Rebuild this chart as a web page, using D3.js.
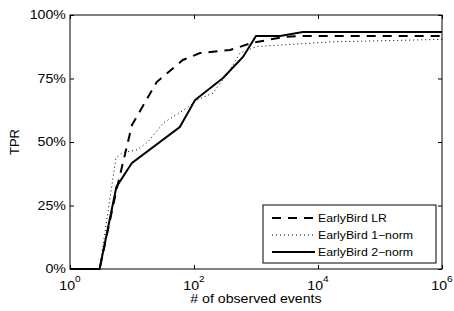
<!DOCTYPE html>
<html>
<head>
<meta charset="utf-8">
<script src="https://cdn.jsdelivr.net/npm/d3@7"></script>
<style>
  body { margin: 0; background: #fff; }
  svg { display: block; }
  text { font-family: "Liberation Sans", Arial, sans-serif; fill: #000; }
  .wide { transform-box: fill-box; transform-origin: center; transform: scaleX(1.18); }
</style>
</head>
<body>
<div id="chart"></div>
<script>
// # of observed events (x) and TPR in % (y)
var eventsLR  = [1, 3, 5.6, 10, 25, 66, 125, 380, 860, 2700, 5100, 1e6];
var tprLR     = [0, 0, 31, 56.7, 73.6, 82.3, 85, 86.2, 89, 91.3, 91.7, 91.7];

var events1n  = [1, 3, 5.5, 6.9, 12, 18, 32, 77, 112, 202, 380, 552, 1040, 15500, 1e6];
var tpr1n     = [0, 0, 43.7, 45.7, 46.9, 50, 57.5, 63.4, 66.5, 69.3, 78.3, 85, 87.6, 89.4, 90.4];

var events2n  = [1, 3, 5.6, 10, 59, 104, 294, 617, 1000, 2450, 5700, 1e6];
var tpr2n     = [0, 0, 32.3, 41.8, 55.9, 66.5, 75.2, 83.5, 91.7, 91.7, 93.3, 93.3];

var seriesNames = ["EarlyBird LR", "EarlyBird 1\u2212norm", "EarlyBird 2\u2212norm"];
var xTicks = [1, 100, 1e4, 1e6];
var yTicks = [0, 25, 50, 75, 100];

var W = 454, H = 311;
var plotL = 70, plotR = 442, plotT = 15, plotB = 269;

var svg = d3.select("#chart").append("svg")
    .attr("width", W)
    .attr("height", H);

var x = d3.scaleLog().domain([1, 1e6]).range([plotL, plotR]);
var y = d3.scaleLinear().domain([0, 100]).range([plotB, plotT]);

// axes, matlab style: ticks pointing inward on all four sides
var tickLen = 4;
svg.append("g")
    .attr("transform", "translate(0," + plotB + ")")
    .call(d3.axisBottom(x).tickValues(xTicks).tickSizeInner(-tickLen).tickSizeOuter(0).tickFormat(""));
svg.append("g")
    .attr("transform", "translate(0," + plotT + ")")
    .call(d3.axisTop(x).tickValues(xTicks).tickSizeInner(-tickLen).tickSizeOuter(0).tickFormat(""));
svg.append("g")
    .attr("transform", "translate(" + plotL + ",0)")
    .call(d3.axisLeft(y).tickValues(yTicks).tickSizeInner(-tickLen).tickSizeOuter(0).tickFormat(""));
svg.append("g")
    .attr("transform", "translate(" + plotR + ",0)")
    .call(d3.axisRight(y).tickValues(yTicks).tickSizeInner(-tickLen).tickSizeOuter(0).tickFormat(""));
svg.selectAll(".domain").remove();
svg.selectAll(".tick line").attr("stroke", "#000");

svg.append("rect")
    .attr("x", plotL).attr("y", plotT)
    .attr("width", plotR - plotL).attr("height", plotB - plotT)
    .attr("fill", "none").attr("stroke", "#000").attr("stroke-width", 1);

// tick labels
svg.selectAll(".ylab").data(yTicks).enter().append("text")
    .attr("class", "ylab")
    .attr("x", plotL - 4)
    .attr("y", function(d) { return y(d) + 4.5; })
    .attr("text-anchor", "end")
    .style("font-size", "12px")
    .style("transform-box", "fill-box")
    .style("transform-origin", "right")
    .style("transform", "scaleX(1.18)")
    .text(function(d) { return d + "%"; });

var xl = svg.selectAll(".xlab").data(xTicks).enter().append("text")
    .attr("class", "xlab wide")
    .attr("x", function(d) { return x(d); })
    .attr("y", 290)
    .attr("text-anchor", "middle")
    .style("font-size", "12px");
xl.append("tspan").text("10");
xl.append("tspan")
    .attr("dy", -8)
    .style("font-size", "8.5px")
    .text(function(d) { return Math.round(Math.log10(d)); });

svg.append("text")
    .attr("class", "wide")
    .attr("x", (plotL + plotR) / 2)
    .attr("y", 303)
    .attr("text-anchor", "middle")
    .style("font-size", "12px")
    .text("# of observed events");

svg.append("text")
    .attr("transform", "translate(19," + ((plotT + plotB) / 2) + ") rotate(-90)")
    .attr("text-anchor", "middle")
    .style("font-size", "13px")
    .text("TPR");

// lines
var line = d3.line()
    .x(function(d) { return x(d[0]); })
    .y(function(d) { return y(d[1]); });

var styles = [
  {width: 2, dash: "9,7"},
  {width: 1, dash: "1,3"},
  {width: 2, dash: null}
];
var seriesData = [
  d3.zip(eventsLR, tprLR),
  d3.zip(events1n, tpr1n),
  d3.zip(events2n, tpr2n)
];

seriesData.forEach(function(data, i) {
  svg.append("path")
      .datum(data)
      .attr("d", line)
      .attr("fill", "none")
      .attr("stroke", "#000")
      .attr("stroke-width", styles[i].width)
      .attr("stroke-dasharray", styles[i].dash);
});

// legend
var lg = svg.append("g");
lg.append("rect")
    .attr("x", 263).attr("y", 205)
    .attr("width", 173).attr("height", 58)
    .attr("fill", "#fff").attr("stroke", "#000").attr("stroke-width", 1);

seriesNames.forEach(function(name, i) {
  var ly = 218 + i * 17;
  lg.append("line")
      .attr("x1", 272).attr("x2", 315)
      .attr("y1", ly).attr("y2", ly)
      .attr("stroke", "#000")
      .attr("stroke-width", styles[i].width)
      .attr("stroke-dasharray", styles[i].dash);
  lg.append("text")
      .attr("x", 318)
      .attr("y", ly + 4)
      .style("font-size", "10.5px")
      .style("transform-box", "fill-box")
      .style("transform-origin", "left")
      .style("transform", "scaleX(1.17)")
      .text(name);
});
</script>
</body>
</html>
